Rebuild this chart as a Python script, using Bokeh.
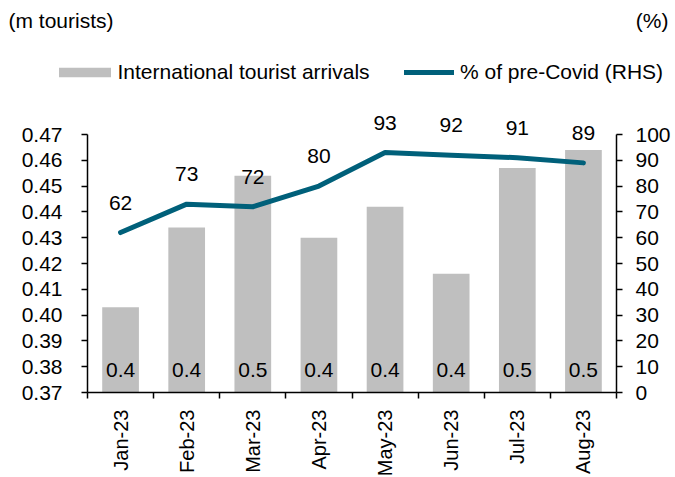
import math
from bokeh.plotting import figure
from bokeh.models import (Range1d, LinearAxis, FixedTicker, ColumnDataSource, Legend,
                          LegendItem, Label, LabelSet, NumeralTickFormatter)
from bokeh.core.properties import value
from bokeh.embed import file_html
from bokeh.resources import INLINE

categories = ["Jan-23", "Feb-23", "Mar-23", "Apr-23", "May-23", "Jun-23", "Jul-23", "Aug-23"]
arrivals = [0.403, 0.434, 0.454, 0.430, 0.442, 0.416, 0.457, 0.464]
pct_pre_covid = [62, 73, 72, 80, 93, 92, 91, 89]
left_ticks = [0.37, 0.38, 0.39, 0.40, 0.41, 0.42, 0.43, 0.44, 0.45, 0.46, 0.47]
right_ticks = [0, 10, 20, 30, 40, 50, 60, 70, 80, 90, 100]

FONT = "Liberation Sans"
FS = "21px"
BAR_COLOR = "#BFBFBF"
LINE_COLOR = "#00607A"

# layout (pixels): canvas size and where the axes sit
W, H = 675, 477
PX_L, PX_R, PX_T, PX_B = 87, 616, 134, 392

n = len(categories)
xpos = [i + 0.5 for i in range(n)]
cat_w = (PX_R - PX_L) / n
x_start = -PX_L / cat_w
x_end = n + (W - PX_R) / cat_w
l_lo, l_hi = left_ticks[0], left_ticks[-1]
r_lo, r_hi = right_ticks[0], right_ticks[-1]
ppu_l = (PX_B - PX_T) / (l_hi - l_lo)
ppu_r = (PX_B - PX_T) / (r_hi - r_lo)

src = ColumnDataSource(dict(
    x=xpos, cat=categories, arr=arrivals,
    arr_lbl=[f"{v:.1f}" for v in arrivals],
    base=[l_lo] * n,
    pct=pct_pre_covid, pct_lbl=[str(v) for v in pct_pre_covid],
))

p = figure(width=W, height=H,
           x_range=Range1d(x_start, x_end),
           y_range=Range1d(l_lo - (H - PX_B) / ppu_l, l_hi + PX_T / ppu_l),
           output_backend="svg", toolbar_location=None,
           min_border=0, min_border_left=0, min_border_right=0,
           min_border_top=0, min_border_bottom=0,
           x_axis_type=None, y_axis_type=None)
p.extra_y_ranges = {"pct": Range1d(r_lo - (H - PX_B) / ppu_r, r_hi + PX_T / ppu_r)}
p.outline_line_color = None
p.grid.visible = False


def style_axis(ax):
    ax.major_tick_in = 0
    ax.major_tick_line_color = "black"
    ax.major_tick_line_width = 1.5
    ax.axis_line_color = "black"
    ax.axis_line_width = 1.5
    ax.major_label_text_font = FONT
    ax.major_label_text_font_size = FS
    ax.major_label_text_color = "black"


# x axis
xa = LinearAxis(fixed_location=l_lo, bounds=(0, n),
                ticker=FixedTicker(ticks=xpos, minor_ticks=list(range(n + 1))))
style_axis(xa)
xa.major_label_overrides = {x: c for x, c in zip(xpos, categories)}
xa.major_label_orientation = math.pi / 2
xa.major_label_text_font_size = "20px"
xa.major_tick_out = 0
xa.minor_tick_out = 6
xa.minor_tick_in = 0
xa.minor_tick_line_color = "black"
xa.minor_tick_line_width = 1.5
xa.major_label_standoff = 11
p.add_layout(xa, "below")

# left axis
ya = LinearAxis(fixed_location=0, bounds=(l_lo, l_hi), ticker=FixedTicker(ticks=left_ticks),
                formatter=NumeralTickFormatter(format="0.00"))
style_axis(ya)
ya.major_tick_out = 6
ya.minor_tick_line_color = None
ya.major_label_standoff = 19
p.add_layout(ya, "left")

# right axis
ra = LinearAxis(y_range_name="pct", fixed_location=n, bounds=(r_lo, r_hi),
                ticker=FixedTicker(ticks=right_ticks))
style_axis(ra)
ra.major_tick_out = 6
ra.minor_tick_line_color = None
ra.major_label_standoff = 13
p.add_layout(ra, "right")

bars = p.vbar(x="x", top="arr", bottom="base", width=0.555, source=src,
              fill_color=BAR_COLOR, line_color=None)
line = p.line(x="x", y="pct", source=src, y_range_name="pct", line_width=5,
              line_color=LINE_COLOR, line_cap="round", line_join="round")

p.add_layout(LabelSet(x="x", y="pct", text="pct_lbl", source=src, y_range_name="pct",
                      y_offset=30, text_align="center", text_baseline="middle",
                      text_font=value(FONT), text_font_size=value(FS), text_color="black"))
p.add_layout(LabelSet(x="x", y="base", text="arr_lbl", source=src,
                      y_offset=23, text_align="center", text_baseline="middle",
                      text_font=value(FONT), text_font_size=value(FS), text_color="black"))

leg_common = dict(orientation="horizontal", padding=0, margin=0, border_line_color=None,
                  background_fill_alpha=0, label_text_font=FONT, label_text_font_size=FS,
                  label_text_color="black")
leg1 = Legend(items=[LegendItem(label="International tourist arrivals", renderers=[bars])],
              location=(51.5, 393), glyph_width=65, glyph_height=12, label_standoff=1,
              **leg_common)
leg2 = Legend(items=[LegendItem(label="% of pre-Covid (RHS)", renderers=[line])],
              location=(404, 393), glyph_width=50, glyph_height=12, label_standoff=6,
              **leg_common)
p.add_layout(leg1)
p.add_layout(leg2)

p.add_layout(Label(x=8, y=H - 20, x_units="screen", y_units="screen", text="(m tourists)",
                   text_baseline="middle", text_font=FONT, text_font_size=FS, text_color="black"))
p.add_layout(Label(x=668, y=H - 20, x_units="screen", y_units="screen", text="(%)",
                   text_align="right", text_baseline="middle", text_font=FONT,
                   text_font_size=FS, text_color="black"))

open("out.html", "w").write(file_html(p, INLINE))
